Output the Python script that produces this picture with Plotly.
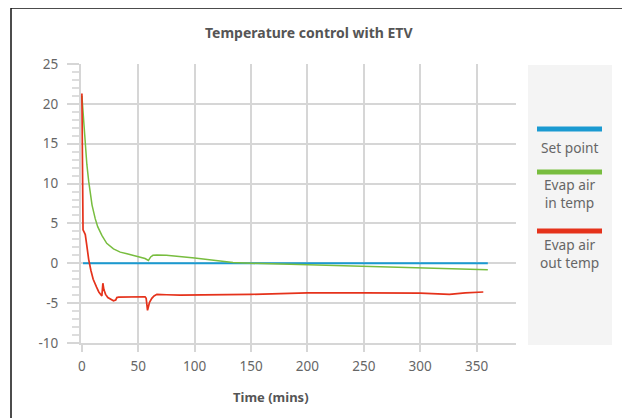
import plotly.graph_objects as go

OFF = 8  # page body margin
W, H = 630, 418
L, R, T, B = 81, 516, 64, 343

title = "Temperature control with ETV"
x_title = "Time (mins)"
series_names = ["Set point", "Evap air<br>in temp", "Evap air<br>out temp"]
series_colors = ["#1a9ad1", "#78bd3f", "#e5321b"]

set_x = [1, 360]
set_y = [0, 0]

green_x = [0, 1, 2, 3, 4.4, 6, 7.4, 9, 11.8, 14, 17.7, 22, 28, 34, 40, 46, 51.7, 56, 59,
           61, 63, 66.5, 75, 87, 100, 115, 134, 150, 175, 200, 250, 300, 360]
green_y = [21.0, 18.8, 16.6, 14.3, 12.4, 10.3, 8.6, 7.3, 5.6, 4.6, 3.5, 2.5, 1.8, 1.4, 1.2, 1.0,
           0.8, 0.6, 0.35, 0.8, 1.0, 1.05, 1.0, 0.85, 0.65, 0.4, 0.1, 0.0, -0.1, -0.2, -0.4, -0.6, -0.8]

red_x = [0, 1, 2, 3, 4, 5, 6, 8, 10, 13, 15, 17.7, 18.6, 19.5, 21, 23, 25, 28, 30, 31, 32.5,
         45, 56, 57, 58.2, 60, 62, 64, 66.5, 75, 87, 150, 200, 250, 300, 326, 340, 356]
red_y = [21.3, 4.2, 3.9, 3.6, 2.6, 1.5, 0.5, -0.9, -2.0, -3.0, -3.6, -4.1, -2.5, -3.3, -3.9, -4.3,
         -4.5, -4.7, -4.6, -4.3, -4.25, -4.2, -4.2, -4.4, -5.9, -4.9, -4.4, -4.1, -3.9, -3.95, -4.0,
         -3.9, -3.7, -3.7, -3.75, -3.9, -3.7, -3.6]

x_ticks = [0, 50, 100, 150, 200, 250, 300, 350]
y_ticks = [-10, -5, 0, 5, 10, 15, 20, 25]
y_tick_labels = ["-10", "-5", "0", "5", "10", "15", "20", "25"]

FONT = "Noto Sans"
GRID = "#d6d6d6"
TXT = "#666666"


def px(x):
    return (x - L) / (R - L)


def py(y):
    return (B - y) / (B - T)


fig = go.Figure()
for xs, ys, name, col, w in [
    (set_x, set_y, series_names[0], series_colors[0], 2),
    (green_x, green_y, series_names[1], series_colors[1], 1.5),
    (red_x, red_y, series_names[2], series_colors[2], 1.7),
]:
    fig.add_trace(go.Scatter(x=xs, y=ys, mode="lines", name=name,
                             line=dict(color=col, width=w), showlegend=False))

fig.update_layout(
    width=W - OFF, height=H - OFF,
    margin=dict(l=L - OFF, r=W - R, t=T - OFF, b=H - B, pad=0),
    paper_bgcolor="white", plot_bgcolor="white",
    font=dict(family=FONT, size=13, color=TXT),
    showlegend=False,
)
fig.update_xaxes(
    range=[-0.8, 385], tickvals=x_ticks, showgrid=True, gridcolor=GRID, gridwidth=2,
    zeroline=False, showline=True, linecolor=GRID, linewidth=2,
    ticks="outside", ticklen=7, tickcolor=GRID, tickwidth=2,
    ticklabelstandoff=3, tickfont=dict(size=13.5, color=TXT),
)
fig.update_yaxes(
    range=[-10, 25], tickvals=y_ticks, ticktext=y_tick_labels, showgrid=True, gridcolor=GRID, gridwidth=2,
    zeroline=False, showline=True, linecolor=GRID, linewidth=2,
    ticks="outside", ticklen=12, tickcolor=GRID, tickwidth=2,
    ticklabelstandoff=6, tickfont=dict(size=13.5, color=TXT),
    minor=dict(dtick=1, ticks="outside", ticklen=7, tickcolor="#dddddd", tickwidth=1.5, showgrid=False),
)

shapes = []
annotations = []
# outer frame
shapes.append(dict(type="line", xref="paper", yref="paper", x0=px(11), x1=px(11), y0=py(8), y1=py(430),
                   line=dict(color="#111111", width=1.5)))
shapes.append(dict(type="line", xref="paper", yref="paper", x0=px(11), x1=px(628), y0=py(8), y1=py(8),
                   line=dict(color="#111111", width=1.5)))
shapes.append(dict(type="line", xref="paper", yref="paper", x0=px(627.5), x1=px(627.5), y0=py(8), y1=py(430),
                   line=dict(color="#777777", width=2)))
# legend panel
shapes.append(dict(type="rect", xref="paper", yref="paper", x0=px(528), x1=px(612), y0=py(65), y1=py(345),
                   fillcolor="#f4f4f4", line=dict(width=0), layer="below"))
leg_line_y = [129, 172, 231]
leg_text_y = [147, 193.5, 253]
for i in range(3):
    shapes.append(dict(type="line", xref="paper", yref="paper", x0=px(537), x1=px(602),
                       y0=py(leg_line_y[i]), y1=py(leg_line_y[i]),
                       line=dict(color=series_colors[i], width=5)))
    annotations.append(dict(xref="paper", yref="paper", x=px(569.5), y=py(leg_text_y[i]),
                            text=series_names[i], showarrow=False, xanchor="center", yanchor="middle",
                            align="center", font=dict(family=FONT, size=13.7, color=TXT)))

annotations.append(dict(xref="paper", yref="paper", x=px(309), y=py(33), text="<b>" + title + "</b>",
                        showarrow=False, xanchor="center", yanchor="middle",
                        font=dict(family=FONT, size=14, color="#555555")))
annotations.append(dict(xref="paper", yref="paper", x=px(271), y=py(397), text="<b>" + x_title + "</b>",
                        showarrow=False, xanchor="center", yanchor="middle",
                        font=dict(family=FONT, size=13, color="#555555")))

fig.update_layout(shapes=shapes, annotations=annotations)
fig.write_html("out.html")
